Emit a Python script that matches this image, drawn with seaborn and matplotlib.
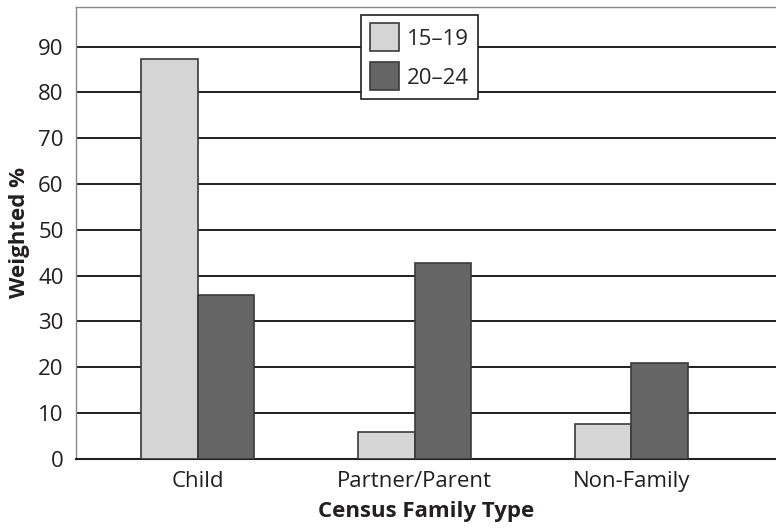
import matplotlib
matplotlib.use("Agg")
import matplotlib.pyplot as plt
import seaborn as sns
import pandas as pd

# data
categories = ["Child", "Partner/Parent", "Non-Family"]
age_groups = ["15\u201319", "20\u201324"]
vals_15_19 = [87.3, 5.8, 7.7]
vals_20_24 = [35.8, 42.8, 21.0]
yticks = [0, 10, 20, 30, 40, 50, 60, 70, 80, 90]

df = pd.DataFrame({
    "cat": categories * 2,
    "age": [age_groups[0]] * 3 + [age_groups[1]] * 3,
    "val": vals_15_19 + vals_20_24,
})

sns.set_style("white")
plt.rcParams["font.family"] = ["Open Sans", "DejaVu Sans"]

fig = plt.figure(figsize=(7.76, 5.28), dpi=100)
ax = fig.add_axes([0.098, 0.131, 0.902, 0.856])

sns.barplot(data=df, x="cat", y="val", hue="age", hue_order=age_groups,
            palette=["#d5d5d5", "#646564"], width=0.52, edgecolor="#3a3a3a",
            linewidth=1.2, ax=ax, zorder=3)

ax.set_xlim(-0.56, 2.666)
ax.set_ylim(0, 98.7)
ax.set_yticks(yticks)
ax.set_yticklabels([str(v) for v in yticks], fontsize=16, color="#231f20")
ax.tick_params(axis="y", length=0, pad=9)
ax.yaxis.grid(True, color="#231f20", linewidth=1.4, zorder=0)
ax.set_axisbelow(True)

ax.set_xticks(range(len(categories)))
ax.set_xticklabels(categories, fontsize=16, color="#231f20")
ax.tick_params(axis="x", which="major", length=0, pad=9)
ax.set_xticks([0.5, 1.5, 2.5], minor=True)
ax.tick_params(axis="x", which="minor", length=14, width=1.2, color="#231f20")

ax.set_xlabel("Census Family Type", fontsize=16, fontweight="bold", color="#231f20", labelpad=6)
ax.set_ylabel("Weighted %", fontsize=16, fontweight="bold", color="#231f20", labelpad=6)

for side in ["left", "top"]:
    ax.spines[side].set_color("#888888")
    ax.spines[side].set_linewidth(1.0)
ax.spines["bottom"].set_color("#231f20")
ax.spines["bottom"].set_linewidth(1.5)
ax.spines["right"].set_visible(False)

leg = ax.legend(loc="upper center", bbox_to_anchor=(0.491, 0.983), borderaxespad=0,
                fontsize=16, frameon=True, fancybox=False, handlelength=1.3,
                handleheight=1.55, handletextpad=0.35, borderpad=0.4,
                labelspacing=0.5, title=None)
leg.get_frame().set_edgecolor("#231f20")
leg.get_frame().set_linewidth(1.2)
leg.get_frame().set_alpha(1)

fig.savefig("out.png", dpi=100)
